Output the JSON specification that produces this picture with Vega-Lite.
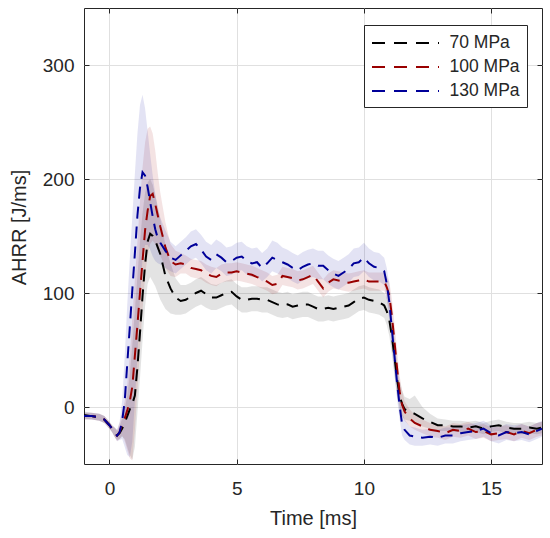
{
"$schema": "https://vega.github.io/schema/vega-lite/v6.json",
"width": 458, "height": 456,
"autosize": {"type": "none"},
"padding": {"left": 84, "top": 8, "right": 8, "bottom": 74},
"background": "white",
"config": {"view": {"stroke": "#262626", "strokeWidth": 1}, "font": "Liberation Sans"},
"data": {"values": [
{"s":"70 MPa","t":-1,"y":-7,"lo":-10,"hi":-4},
{"s":"70 MPa","t":-0.7,"y":-8,"lo":-11,"hi":-5},
{"s":"70 MPa","t":-0.4,"y":-9,"lo":-12,"hi":-6},
{"s":"70 MPa","t":-0.2,"y":-11,"lo":-14,"hi":-8},
{"s":"70 MPa","t":0,"y":-16,"lo":-19,"hi":-13},
{"s":"70 MPa","t":0.1,"y":-19,"lo":-22,"hi":-16},
{"s":"70 MPa","t":0.2,"y":-22,"lo":-26,"hi":-18},
{"s":"70 MPa","t":0.3,"y":-25,"lo":-29,"hi":-21},
{"s":"70 MPa","t":0.4,"y":-23,"lo":-28,"hi":-17},
{"s":"70 MPa","t":0.5,"y":-19,"lo":-26,"hi":-10},
{"s":"70 MPa","t":0.6,"y":-14,"lo":-28,"hi":-2},
{"s":"70 MPa","t":0.7,"y":-8,"lo":-35,"hi":10},
{"s":"70 MPa","t":0.8,"y":-2,"lo":-42,"hi":28},
{"s":"70 MPa","t":0.9,"y":3,"lo":-46,"hi":55},
{"s":"70 MPa","t":1.0,"y":10,"lo":-35,"hi":85},
{"s":"70 MPa","t":1.1,"y":35,"lo":-5,"hi":115},
{"s":"70 MPa","t":1.2,"y":65,"lo":25,"hi":145},
{"s":"70 MPa","t":1.3,"y":97,"lo":58,"hi":170},
{"s":"70 MPa","t":1.4,"y":125,"lo":88,"hi":188},
{"s":"70 MPa","t":1.5,"y":145,"lo":108,"hi":197},
{"s":"70 MPa","t":1.6,"y":152,"lo":114,"hi":200},
{"s":"70 MPa","t":1.7,"y":150,"lo":110,"hi":195},
{"s":"70 MPa","t":1.8,"y":146,"lo":106,"hi":186},
{"s":"70 MPa","t":1.9,"y":140,"lo":100,"hi":176},
{"s":"70 MPa","t":2.0,"y":134,"lo":94,"hi":165},
{"s":"70 MPa","t":2.2,"y":115,"lo":86,"hi":142},
{"s":"70 MPa","t":2.4,"y":104,"lo":82,"hi":126},
{"s":"70 MPa","t":2.6,"y":96,"lo":81,"hi":113},
{"s":"70 MPa","t":2.8,"y":93,"lo":81,"hi":107},
{"s":"70 MPa","t":3.0,"y":94,"lo":82,"hi":107},
{"s":"70 MPa","t":3.2,"y":97,"lo":85,"hi":109},
{"s":"70 MPa","t":3.4,"y":100,"lo":88,"hi":112},
{"s":"70 MPa","t":3.6,"y":102,"lo":90,"hi":114},
{"s":"70 MPa","t":3.8,"y":99,"lo":87,"hi":111},
{"s":"70 MPa","t":4.0,"y":96,"lo":85,"hi":108},
{"s":"70 MPa","t":4.2,"y":96,"lo":85,"hi":107},
{"s":"70 MPa","t":4.4,"y":98,"lo":87,"hi":109},
{"s":"70 MPa","t":4.6,"y":100,"lo":89,"hi":111},
{"s":"70 MPa","t":4.8,"y":101,"lo":90,"hi":112},
{"s":"70 MPa","t":5.0,"y":97,"lo":86,"hi":108},
{"s":"70 MPa","t":5.2,"y":94,"lo":83,"hi":105},
{"s":"70 MPa","t":5.4,"y":94,"lo":83,"hi":105},
{"s":"70 MPa","t":5.6,"y":95,"lo":84,"hi":106},
{"s":"70 MPa","t":5.8,"y":95,"lo":84,"hi":106},
{"s":"70 MPa","t":6.0,"y":94,"lo":83,"hi":105},
{"s":"70 MPa","t":6.2,"y":94,"lo":83,"hi":105},
{"s":"70 MPa","t":6.4,"y":92,"lo":81,"hi":103},
{"s":"70 MPa","t":6.6,"y":90,"lo":79,"hi":101},
{"s":"70 MPa","t":6.8,"y":89,"lo":78,"hi":100},
{"s":"70 MPa","t":7.0,"y":90,"lo":79,"hi":101},
{"s":"70 MPa","t":7.2,"y":88,"lo":77,"hi":99},
{"s":"70 MPa","t":7.4,"y":89,"lo":78,"hi":100},
{"s":"70 MPa","t":7.6,"y":90,"lo":79,"hi":101},
{"s":"70 MPa","t":7.8,"y":90,"lo":79,"hi":101},
{"s":"70 MPa","t":8.0,"y":88,"lo":77,"hi":99},
{"s":"70 MPa","t":8.2,"y":86,"lo":75,"hi":97},
{"s":"70 MPa","t":8.4,"y":86,"lo":75,"hi":97},
{"s":"70 MPa","t":8.6,"y":87,"lo":76,"hi":98},
{"s":"70 MPa","t":8.8,"y":86,"lo":75,"hi":97},
{"s":"70 MPa","t":9.0,"y":87,"lo":76,"hi":98},
{"s":"70 MPa","t":9.2,"y":88,"lo":77,"hi":99},
{"s":"70 MPa","t":9.4,"y":89,"lo":78,"hi":100},
{"s":"70 MPa","t":9.6,"y":92,"lo":81,"hi":103},
{"s":"70 MPa","t":9.8,"y":95,"lo":84,"hi":106},
{"s":"70 MPa","t":10.0,"y":96,"lo":85,"hi":107},
{"s":"70 MPa","t":10.2,"y":94,"lo":83,"hi":105},
{"s":"70 MPa","t":10.4,"y":93,"lo":82,"hi":104},
{"s":"70 MPa","t":10.6,"y":92,"lo":81,"hi":103},
{"s":"70 MPa","t":10.8,"y":89,"lo":78,"hi":100},
{"s":"70 MPa","t":10.9,"y":84,"lo":72,"hi":96},
{"s":"70 MPa","t":11.0,"y":76,"lo":62,"hi":90},
{"s":"70 MPa","t":11.1,"y":62,"lo":46,"hi":78},
{"s":"70 MPa","t":11.2,"y":44,"lo":28,"hi":60},
{"s":"70 MPa","t":11.3,"y":25,"lo":10,"hi":40},
{"s":"70 MPa","t":11.4,"y":10,"lo":-3,"hi":24},
{"s":"70 MPa","t":11.5,"y":3,"lo":-8,"hi":15},
{"s":"70 MPa","t":11.6,"y":-2,"lo":-11,"hi":9},
{"s":"70 MPa","t":11.8,"y":-4,"lo":-12,"hi":7},
{"s":"70 MPa","t":12.0,"y":-6,"lo":-14,"hi":10},
{"s":"70 MPa","t":12.3,"y":-10,"lo":-17,"hi":0},
{"s":"70 MPa","t":12.6,"y":-13,"lo":-19,"hi":-6},
{"s":"70 MPa","t":12.9,"y":-16,"lo":-21,"hi":-10},
{"s":"70 MPa","t":13.2,"y":-16,"lo":-21,"hi":-11},
{"s":"70 MPa","t":13.5,"y":-17,"lo":-22,"hi":-12},
{"s":"70 MPa","t":13.8,"y":-17,"lo":-22,"hi":-12},
{"s":"70 MPa","t":14.1,"y":-18,"lo":-23,"hi":-13},
{"s":"70 MPa","t":14.4,"y":-17,"lo":-22,"hi":-12},
{"s":"70 MPa","t":14.7,"y":-19,"lo":-24,"hi":-14},
{"s":"70 MPa","t":15.0,"y":-17,"lo":-22,"hi":-12},
{"s":"70 MPa","t":15.3,"y":-16,"lo":-21,"hi":-11},
{"s":"70 MPa","t":15.6,"y":-18,"lo":-23,"hi":-13},
{"s":"70 MPa","t":15.9,"y":-19,"lo":-24,"hi":-14},
{"s":"70 MPa","t":16.2,"y":-19,"lo":-24,"hi":-14},
{"s":"70 MPa","t":16.5,"y":-18,"lo":-23,"hi":-13},
{"s":"70 MPa","t":16.8,"y":-19,"lo":-24,"hi":-14},
{"s":"70 MPa","t":17.0,"y":-18,"lo":-23,"hi":-13},
{"s":"100 MPa","t":-1,"y":-8,"lo":-11,"hi":-5},
{"s":"100 MPa","t":-0.7,"y":-8,"lo":-11,"hi":-5},
{"s":"100 MPa","t":-0.4,"y":-9,"lo":-12,"hi":-6},
{"s":"100 MPa","t":-0.2,"y":-11,"lo":-14,"hi":-8},
{"s":"100 MPa","t":0,"y":-16,"lo":-19,"hi":-13},
{"s":"100 MPa","t":0.1,"y":-19,"lo":-22,"hi":-16},
{"s":"100 MPa","t":0.2,"y":-22,"lo":-26,"hi":-18},
{"s":"100 MPa","t":0.3,"y":-25,"lo":-30,"hi":-20},
{"s":"100 MPa","t":0.4,"y":-22,"lo":-28,"hi":-14},
{"s":"100 MPa","t":0.5,"y":-15,"lo":-25,"hi":-4},
{"s":"100 MPa","t":0.6,"y":-10,"lo":-30,"hi":5},
{"s":"100 MPa","t":0.7,"y":-3,"lo":-38,"hi":20},
{"s":"100 MPa","t":0.8,"y":5,"lo":-45,"hi":45},
{"s":"100 MPa","t":0.9,"y":18,"lo":-47,"hi":78},
{"s":"100 MPa","t":1.0,"y":45,"lo":-20,"hi":112},
{"s":"100 MPa","t":1.1,"y":72,"lo":15,"hi":145},
{"s":"100 MPa","t":1.2,"y":100,"lo":50,"hi":180},
{"s":"100 MPa","t":1.3,"y":128,"lo":85,"hi":210},
{"s":"100 MPa","t":1.4,"y":155,"lo":115,"hi":232},
{"s":"100 MPa","t":1.5,"y":172,"lo":133,"hi":244},
{"s":"100 MPa","t":1.6,"y":185,"lo":143,"hi":246},
{"s":"100 MPa","t":1.7,"y":187,"lo":146,"hi":240},
{"s":"100 MPa","t":1.8,"y":178,"lo":143,"hi":225},
{"s":"100 MPa","t":1.9,"y":168,"lo":138,"hi":205},
{"s":"100 MPa","t":2.0,"y":158,"lo":133,"hi":188},
{"s":"100 MPa","t":2.2,"y":140,"lo":122,"hi":162},
{"s":"100 MPa","t":2.4,"y":128,"lo":115,"hi":143},
{"s":"100 MPa","t":2.6,"y":125,"lo":114,"hi":137},
{"s":"100 MPa","t":2.8,"y":126,"lo":117,"hi":135},
{"s":"100 MPa","t":3.0,"y":125,"lo":117,"hi":133},
{"s":"100 MPa","t":3.2,"y":122,"lo":114,"hi":130},
{"s":"100 MPa","t":3.4,"y":121,"lo":113,"hi":129},
{"s":"100 MPa","t":3.6,"y":120,"lo":112,"hi":128},
{"s":"100 MPa","t":3.8,"y":117,"lo":109,"hi":125},
{"s":"100 MPa","t":4.0,"y":115,"lo":107,"hi":123},
{"s":"100 MPa","t":4.2,"y":114,"lo":106,"hi":122},
{"s":"100 MPa","t":4.4,"y":117,"lo":109,"hi":125},
{"s":"100 MPa","t":4.6,"y":118,"lo":110,"hi":126},
{"s":"100 MPa","t":4.8,"y":118,"lo":110,"hi":126},
{"s":"100 MPa","t":5.0,"y":119,"lo":111,"hi":127},
{"s":"100 MPa","t":5.2,"y":118,"lo":110,"hi":126},
{"s":"100 MPa","t":5.4,"y":117,"lo":109,"hi":125},
{"s":"100 MPa","t":5.6,"y":116,"lo":108,"hi":124},
{"s":"100 MPa","t":5.8,"y":114,"lo":106,"hi":122},
{"s":"100 MPa","t":6.0,"y":112,"lo":104,"hi":120},
{"s":"100 MPa","t":6.2,"y":110,"lo":102,"hi":118},
{"s":"100 MPa","t":6.4,"y":107,"lo":99,"hi":115},
{"s":"100 MPa","t":6.6,"y":108,"lo":100,"hi":116},
{"s":"100 MPa","t":6.8,"y":115,"lo":107,"hi":123},
{"s":"100 MPa","t":7.0,"y":114,"lo":106,"hi":122},
{"s":"100 MPa","t":7.2,"y":113,"lo":105,"hi":121},
{"s":"100 MPa","t":7.4,"y":111,"lo":103,"hi":119},
{"s":"100 MPa","t":7.6,"y":112,"lo":104,"hi":120},
{"s":"100 MPa","t":7.8,"y":114,"lo":106,"hi":122},
{"s":"100 MPa","t":8.0,"y":116,"lo":108,"hi":124},
{"s":"100 MPa","t":8.2,"y":110,"lo":102,"hi":118},
{"s":"100 MPa","t":8.4,"y":104,"lo":96,"hi":112},
{"s":"100 MPa","t":8.6,"y":109,"lo":101,"hi":117},
{"s":"100 MPa","t":8.8,"y":112,"lo":104,"hi":120},
{"s":"100 MPa","t":9.0,"y":111,"lo":103,"hi":119},
{"s":"100 MPa","t":9.2,"y":110,"lo":102,"hi":118},
{"s":"100 MPa","t":9.4,"y":109,"lo":101,"hi":117},
{"s":"100 MPa","t":9.6,"y":110,"lo":102,"hi":118},
{"s":"100 MPa","t":9.8,"y":111,"lo":103,"hi":119},
{"s":"100 MPa","t":10.0,"y":112,"lo":104,"hi":120},
{"s":"100 MPa","t":10.2,"y":110,"lo":102,"hi":118},
{"s":"100 MPa","t":10.4,"y":110,"lo":102,"hi":118},
{"s":"100 MPa","t":10.6,"y":110,"lo":102,"hi":118},
{"s":"100 MPa","t":10.8,"y":110,"lo":102,"hi":118},
{"s":"100 MPa","t":10.9,"y":105,"lo":95,"hi":114},
{"s":"100 MPa","t":11.0,"y":98,"lo":84,"hi":110},
{"s":"100 MPa","t":11.1,"y":80,"lo":64,"hi":95},
{"s":"100 MPa","t":11.2,"y":58,"lo":42,"hi":74},
{"s":"100 MPa","t":11.3,"y":35,"lo":20,"hi":51},
{"s":"100 MPa","t":11.4,"y":14,"lo":1,"hi":28},
{"s":"100 MPa","t":11.5,"y":2,"lo":-8,"hi":14},
{"s":"100 MPa","t":11.6,"y":-4,"lo":-12,"hi":5},
{"s":"100 MPa","t":11.8,"y":-10,"lo":-17,"hi":-2},
{"s":"100 MPa","t":12.0,"y":-14,"lo":-20,"hi":-7},
{"s":"100 MPa","t":12.3,"y":-17,"lo":-23,"hi":-11},
{"s":"100 MPa","t":12.6,"y":-20,"lo":-26,"hi":-14},
{"s":"100 MPa","t":12.9,"y":-21,"lo":-27,"hi":-15},
{"s":"100 MPa","t":13.2,"y":-23,"lo":-29,"hi":-17},
{"s":"100 MPa","t":13.5,"y":-20,"lo":-26,"hi":-14},
{"s":"100 MPa","t":13.8,"y":-21,"lo":-27,"hi":-15},
{"s":"100 MPa","t":14.1,"y":-19,"lo":-25,"hi":-13},
{"s":"100 MPa","t":14.4,"y":-22,"lo":-28,"hi":-16},
{"s":"100 MPa","t":14.7,"y":-21,"lo":-27,"hi":-15},
{"s":"100 MPa","t":15.0,"y":-24,"lo":-30,"hi":-18},
{"s":"100 MPa","t":15.3,"y":-23,"lo":-29,"hi":-17},
{"s":"100 MPa","t":15.6,"y":-22,"lo":-28,"hi":-16},
{"s":"100 MPa","t":15.9,"y":-24,"lo":-30,"hi":-18},
{"s":"100 MPa","t":16.2,"y":-21,"lo":-27,"hi":-15},
{"s":"100 MPa","t":16.5,"y":-23,"lo":-29,"hi":-17},
{"s":"100 MPa","t":16.8,"y":-20,"lo":-26,"hi":-14},
{"s":"100 MPa","t":17.0,"y":-19,"lo":-25,"hi":-13},
{"s":"130 MPa","t":-1,"y":-8,"lo":-11,"hi":-5},
{"s":"130 MPa","t":-0.7,"y":-8,"lo":-11,"hi":-5},
{"s":"130 MPa","t":-0.4,"y":-9,"lo":-12,"hi":-6},
{"s":"130 MPa","t":-0.2,"y":-11,"lo":-14,"hi":-8},
{"s":"130 MPa","t":0,"y":-16,"lo":-19,"hi":-13},
{"s":"130 MPa","t":0.1,"y":-19,"lo":-22,"hi":-16},
{"s":"130 MPa","t":0.2,"y":-22,"lo":-26,"hi":-18},
{"s":"130 MPa","t":0.3,"y":-25,"lo":-30,"hi":-20},
{"s":"130 MPa","t":0.4,"y":-22,"lo":-29,"hi":-13},
{"s":"130 MPa","t":0.5,"y":-12,"lo":-28,"hi":6},
{"s":"130 MPa","t":0.6,"y":5,"lo":-35,"hi":45},
{"s":"130 MPa","t":0.7,"y":38,"lo":-42,"hi":90},
{"s":"130 MPa","t":0.8,"y":70,"lo":-44,"hi":130},
{"s":"130 MPa","t":0.9,"y":103,"lo":-30,"hi":168},
{"s":"130 MPa","t":1.0,"y":135,"lo":5,"hi":205},
{"s":"130 MPa","t":1.1,"y":168,"lo":45,"hi":240},
{"s":"130 MPa","t":1.2,"y":192,"lo":95,"hi":265},
{"s":"130 MPa","t":1.3,"y":206,"lo":130,"hi":274},
{"s":"130 MPa","t":1.4,"y":203,"lo":142,"hi":262},
{"s":"130 MPa","t":1.5,"y":193,"lo":142,"hi":242},
{"s":"130 MPa","t":1.6,"y":180,"lo":138,"hi":222},
{"s":"130 MPa","t":1.7,"y":167,"lo":132,"hi":203},
{"s":"130 MPa","t":1.8,"y":156,"lo":128,"hi":187},
{"s":"130 MPa","t":1.9,"y":148,"lo":126,"hi":174},
{"s":"130 MPa","t":2.0,"y":144,"lo":125,"hi":166},
{"s":"130 MPa","t":2.2,"y":137,"lo":122,"hi":155},
{"s":"130 MPa","t":2.4,"y":131,"lo":119,"hi":145},
{"s":"130 MPa","t":2.6,"y":129,"lo":117,"hi":141},
{"s":"130 MPa","t":2.8,"y":133,"lo":121,"hi":145},
{"s":"130 MPa","t":3.0,"y":137,"lo":125,"hi":149},
{"s":"130 MPa","t":3.2,"y":141,"lo":129,"hi":154},
{"s":"130 MPa","t":3.4,"y":143,"lo":131,"hi":156},
{"s":"130 MPa","t":3.6,"y":138,"lo":126,"hi":151},
{"s":"130 MPa","t":3.8,"y":132,"lo":120,"hi":145},
{"s":"130 MPa","t":4.0,"y":129,"lo":117,"hi":142},
{"s":"130 MPa","t":4.2,"y":134,"lo":122,"hi":147},
{"s":"130 MPa","t":4.4,"y":131,"lo":119,"hi":144},
{"s":"130 MPa","t":4.6,"y":127,"lo":115,"hi":140},
{"s":"130 MPa","t":4.8,"y":128,"lo":116,"hi":141},
{"s":"130 MPa","t":5.0,"y":131,"lo":119,"hi":144},
{"s":"130 MPa","t":5.2,"y":132,"lo":120,"hi":145},
{"s":"130 MPa","t":5.4,"y":128,"lo":116,"hi":141},
{"s":"130 MPa","t":5.6,"y":126,"lo":114,"hi":139},
{"s":"130 MPa","t":5.8,"y":127,"lo":115,"hi":140},
{"s":"130 MPa","t":6.0,"y":122,"lo":110,"hi":135},
{"s":"130 MPa","t":6.2,"y":126,"lo":114,"hi":139},
{"s":"130 MPa","t":6.4,"y":131,"lo":119,"hi":146},
{"s":"130 MPa","t":6.6,"y":129,"lo":117,"hi":144},
{"s":"130 MPa","t":6.8,"y":127,"lo":115,"hi":140},
{"s":"130 MPa","t":7.0,"y":125,"lo":113,"hi":138},
{"s":"130 MPa","t":7.2,"y":122,"lo":110,"hi":135},
{"s":"130 MPa","t":7.4,"y":120,"lo":108,"hi":133},
{"s":"130 MPa","t":7.6,"y":123,"lo":111,"hi":136},
{"s":"130 MPa","t":7.8,"y":125,"lo":113,"hi":138},
{"s":"130 MPa","t":8.0,"y":126,"lo":114,"hi":139},
{"s":"130 MPa","t":8.2,"y":124,"lo":112,"hi":137},
{"s":"130 MPa","t":8.4,"y":124,"lo":112,"hi":137},
{"s":"130 MPa","t":8.6,"y":120,"lo":108,"hi":133},
{"s":"130 MPa","t":8.8,"y":117,"lo":105,"hi":130},
{"s":"130 MPa","t":9.0,"y":115,"lo":103,"hi":128},
{"s":"130 MPa","t":9.2,"y":118,"lo":106,"hi":131},
{"s":"130 MPa","t":9.4,"y":121,"lo":109,"hi":134},
{"s":"130 MPa","t":9.6,"y":126,"lo":114,"hi":139},
{"s":"130 MPa","t":9.8,"y":127,"lo":115,"hi":140},
{"s":"130 MPa","t":10.0,"y":131,"lo":119,"hi":144},
{"s":"130 MPa","t":10.2,"y":126,"lo":114,"hi":139},
{"s":"130 MPa","t":10.4,"y":123,"lo":111,"hi":136},
{"s":"130 MPa","t":10.6,"y":122,"lo":110,"hi":135},
{"s":"130 MPa","t":10.8,"y":119,"lo":107,"hi":131},
{"s":"130 MPa","t":10.9,"y":108,"lo":94,"hi":122},
{"s":"130 MPa","t":11.0,"y":92,"lo":76,"hi":108},
{"s":"130 MPa","t":11.1,"y":68,"lo":52,"hi":84},
{"s":"130 MPa","t":11.2,"y":45,"lo":29,"hi":61},
{"s":"130 MPa","t":11.3,"y":22,"lo":8,"hi":37},
{"s":"130 MPa","t":11.4,"y":2,"lo":-10,"hi":15},
{"s":"130 MPa","t":11.5,"y":-15,"lo":-25,"hi":-5},
{"s":"130 MPa","t":11.6,"y":-20,"lo":-29,"hi":-11},
{"s":"130 MPa","t":11.8,"y":-25,"lo":-33,"hi":-17},
{"s":"130 MPa","t":12.0,"y":-26,"lo":-34,"hi":-18},
{"s":"130 MPa","t":12.3,"y":-27,"lo":-34,"hi":-20},
{"s":"130 MPa","t":12.6,"y":-26,"lo":-33,"hi":-19},
{"s":"130 MPa","t":12.9,"y":-27,"lo":-34,"hi":-20},
{"s":"130 MPa","t":13.2,"y":-25,"lo":-32,"hi":-18},
{"s":"130 MPa","t":13.5,"y":-25,"lo":-32,"hi":-18},
{"s":"130 MPa","t":13.8,"y":-23,"lo":-30,"hi":-16},
{"s":"130 MPa","t":14.1,"y":-22,"lo":-29,"hi":-15},
{"s":"130 MPa","t":14.4,"y":-21,"lo":-28,"hi":-14},
{"s":"130 MPa","t":14.7,"y":-19,"lo":-26,"hi":-12},
{"s":"130 MPa","t":15.0,"y":-23,"lo":-30,"hi":-16},
{"s":"130 MPa","t":15.3,"y":-25,"lo":-32,"hi":-18},
{"s":"130 MPa","t":15.6,"y":-22,"lo":-29,"hi":-15},
{"s":"130 MPa","t":15.9,"y":-23,"lo":-30,"hi":-16},
{"s":"130 MPa","t":16.2,"y":-22,"lo":-29,"hi":-15},
{"s":"130 MPa","t":16.5,"y":-24,"lo":-31,"hi":-17},
{"s":"130 MPa","t":16.8,"y":-21,"lo":-28,"hi":-14},
{"s":"130 MPa","t":17.0,"y":-19,"lo":-26,"hi":-12}
]},
"layer": [
{
"mark": {"type": "area", "opacity": 0.11, "clip": true},
"encoding": {
"x": {"field": "t", "type": "quantitative", "scale": {"domain": [-1, 17], "nice": false, "zero": false},
"axis": {"orient": "bottom", "values": [0, 5, 10, 15], "title": "Time [ms]", "titleFontSize": 20, "titleFontWeight": "normal", "titleColor": "#262626", "titleY": 54, "titleBaseline": "middle", "labelFontSize": 19, "labelColor": "#262626", "labelBaseline": "middle", "labelPadding": 29, "tickSize": -5, "tickColor": "#262626", "domain": false, "grid": true, "gridColor": "#e0e0e0", "gridWidth": 1}},
"y": {"field": "lo", "type": "quantitative", "scale": {"domain": [-50, 350], "nice": false, "zero": false},
"axis": {"orient": "left", "values": [0, 100, 200, 300], "title": "AHRR [J/ms]", "titleFontSize": 20, "titleFontWeight": "normal", "titleColor": "#262626", "titleX": -65, "titleY": 219, "titleAlign": "center", "titleBaseline": "middle", "labelFontSize": 19, "labelColor": "#262626", "labelPadding": 15, "tickSize": -5, "tickColor": "#262626", "domain": false, "grid": true, "gridColor": "#e0e0e0", "gridWidth": 1}},
"y2": {"field": "hi"},
"fill": {"field": "s", "type": "nominal", "scale": {"domain": ["130 MPa", "100 MPa", "70 MPa"], "range": ["#000099", "#990000", "#000000"]}, "legend": null}
}
},
{
"mark": {"type": "line", "strokeWidth": 2, "strokeDash": [12, 8], "clip": true},
"encoding": {
"x": {"field": "t", "type": "quantitative", "axis": {"orient": "top", "values": [0, 5, 10, 15], "labels": false, "title": null, "grid": false, "domain": false, "tickSize": -5, "tickColor": "#262626"}},
"y": {"field": "y", "type": "quantitative", "axis": {"orient": "right", "values": [0, 100, 200, 300], "labels": false, "title": null, "grid": false, "domain": false, "tickSize": -5, "tickColor": "#262626"}},
"stroke": {"field": "s", "type": "nominal", "scale": {"domain": ["70 MPa", "100 MPa", "130 MPa"], "range": ["#000000", "#990000", "#000099"]},
"legend": {"title": null, "orient": "none", "legendX": 280, "legendY": 17, "symbolType": "M-3.35,0H3.35", "symbolSize": 400, "symbolStrokeWidth": 2, "symbolDash": [13, 9], "symbolOffset": 23.5, "labelOffset": 33, "labelFontSize": 17.5, "labelColor": "#262626", "strokeColor": "#262626", "fillColor": "white", "padding": 7, "rowPadding": 4}}
}
}
],
"resolve": {"axis": {"x": "independent", "y": "independent"}}
}
